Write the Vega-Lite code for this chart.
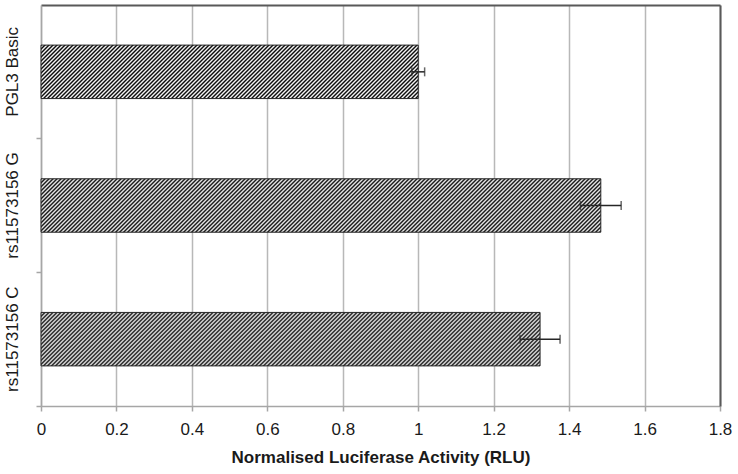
{
"$schema": "https://vega.github.io/schema/vega-lite/v6.json",
"width": 679, "height": 401,
"autosize": {"type": "none"},
"padding": {"left": 41, "top": 5, "right": 18, "bottom": 68},
"background": "white",
"config": {"font": "Liberation Sans", "view": {"stroke": null}},
"params": [{"name": "hatch", "value": [
{"offset":0.00,"color":"#000"},{"offset":0.0025,"color":"#fff"},{"offset":0.005,"color":"#000"},{"offset":0.0075,"color":"#fff"},
{"offset":0.01,"color":"#000"},{"offset":0.0125,"color":"#fff"},{"offset":0.015,"color":"#000"},{"offset":0.0175,"color":"#fff"},
{"offset":0.02,"color":"#000"},{"offset":0.0225,"color":"#fff"},{"offset":0.025,"color":"#000"},{"offset":0.0275,"color":"#fff"},
{"offset":0.03,"color":"#000"},{"offset":0.0325,"color":"#fff"},{"offset":0.035,"color":"#000"},{"offset":0.0375,"color":"#fff"},
{"offset":0.04,"color":"#000"},{"offset":0.0425,"color":"#fff"},{"offset":0.045,"color":"#000"},{"offset":0.0475,"color":"#fff"},
{"offset":0.05,"color":"#000"},{"offset":0.0525,"color":"#fff"},{"offset":0.055,"color":"#000"},{"offset":0.0575,"color":"#fff"},
{"offset":0.06,"color":"#000"},{"offset":0.0625,"color":"#fff"},{"offset":0.065,"color":"#000"},{"offset":0.0675,"color":"#fff"},
{"offset":0.07,"color":"#000"},{"offset":0.0725,"color":"#fff"},{"offset":0.075,"color":"#000"},{"offset":0.0775,"color":"#fff"},
{"offset":0.08,"color":"#000"},{"offset":0.0825,"color":"#fff"},{"offset":0.085,"color":"#000"},{"offset":0.0875,"color":"#fff"},
{"offset":0.09,"color":"#000"},{"offset":0.0925,"color":"#fff"},{"offset":0.095,"color":"#000"},{"offset":0.0975,"color":"#fff"},
{"offset":0.10,"color":"#000"},{"offset":0.1025,"color":"#fff"},{"offset":0.105,"color":"#000"},{"offset":0.1075,"color":"#fff"},
{"offset":0.11,"color":"#000"},{"offset":0.1125,"color":"#fff"},{"offset":0.115,"color":"#000"},{"offset":0.1175,"color":"#fff"},
{"offset":0.12,"color":"#000"},{"offset":0.1225,"color":"#fff"},{"offset":0.125,"color":"#000"},{"offset":0.1275,"color":"#fff"},
{"offset":0.13,"color":"#000"},{"offset":0.1325,"color":"#fff"},{"offset":0.135,"color":"#000"},{"offset":0.1375,"color":"#fff"},
{"offset":0.14,"color":"#000"},{"offset":0.1425,"color":"#fff"},{"offset":0.145,"color":"#000"},{"offset":0.1475,"color":"#fff"},
{"offset":0.15,"color":"#000"},{"offset":0.1525,"color":"#fff"},{"offset":0.155,"color":"#000"},{"offset":0.1575,"color":"#fff"},
{"offset":0.16,"color":"#000"},{"offset":0.1625,"color":"#fff"},{"offset":0.165,"color":"#000"},{"offset":0.1675,"color":"#fff"},
{"offset":0.17,"color":"#000"},{"offset":0.1725,"color":"#fff"},{"offset":0.175,"color":"#000"},{"offset":0.1775,"color":"#fff"},
{"offset":0.18,"color":"#000"},{"offset":0.1825,"color":"#fff"},{"offset":0.185,"color":"#000"},{"offset":0.1875,"color":"#fff"},
{"offset":0.19,"color":"#000"},{"offset":0.1925,"color":"#fff"},{"offset":0.195,"color":"#000"},{"offset":0.1975,"color":"#fff"},
{"offset":0.20,"color":"#000"},{"offset":0.2025,"color":"#fff"},{"offset":0.205,"color":"#000"},{"offset":0.2075,"color":"#fff"},
{"offset":0.21,"color":"#000"},{"offset":0.2125,"color":"#fff"},{"offset":0.215,"color":"#000"},{"offset":0.2175,"color":"#fff"},
{"offset":0.22,"color":"#000"},{"offset":0.2225,"color":"#fff"},{"offset":0.225,"color":"#000"},{"offset":0.2275,"color":"#fff"},
{"offset":0.23,"color":"#000"},{"offset":0.2325,"color":"#fff"},{"offset":0.235,"color":"#000"},{"offset":0.2375,"color":"#fff"},
{"offset":0.24,"color":"#000"},{"offset":0.2425,"color":"#fff"},{"offset":0.245,"color":"#000"},{"offset":0.2475,"color":"#fff"},
{"offset":0.25,"color":"#000"},{"offset":0.2525,"color":"#fff"},{"offset":0.255,"color":"#000"},{"offset":0.2575,"color":"#fff"},
{"offset":0.26,"color":"#000"},{"offset":0.2625,"color":"#fff"},{"offset":0.265,"color":"#000"},{"offset":0.2675,"color":"#fff"},
{"offset":0.27,"color":"#000"},{"offset":0.2725,"color":"#fff"},{"offset":0.275,"color":"#000"},{"offset":0.2775,"color":"#fff"},
{"offset":0.28,"color":"#000"},{"offset":0.2825,"color":"#fff"},{"offset":0.285,"color":"#000"},{"offset":0.2875,"color":"#fff"},
{"offset":0.29,"color":"#000"},{"offset":0.2925,"color":"#fff"},{"offset":0.295,"color":"#000"},{"offset":0.2975,"color":"#fff"},
{"offset":0.30,"color":"#000"},{"offset":0.3025,"color":"#fff"},{"offset":0.305,"color":"#000"},{"offset":0.3075,"color":"#fff"},
{"offset":0.31,"color":"#000"},{"offset":0.3125,"color":"#fff"},{"offset":0.315,"color":"#000"},{"offset":0.3175,"color":"#fff"},
{"offset":0.32,"color":"#000"},{"offset":0.3225,"color":"#fff"},{"offset":0.325,"color":"#000"},{"offset":0.3275,"color":"#fff"},
{"offset":0.33,"color":"#000"},{"offset":0.3325,"color":"#fff"},{"offset":0.335,"color":"#000"},{"offset":0.3375,"color":"#fff"},
{"offset":0.34,"color":"#000"},{"offset":0.3425,"color":"#fff"},{"offset":0.345,"color":"#000"},{"offset":0.3475,"color":"#fff"},
{"offset":0.35,"color":"#000"},{"offset":0.3525,"color":"#fff"},{"offset":0.355,"color":"#000"},{"offset":0.3575,"color":"#fff"},
{"offset":0.36,"color":"#000"},{"offset":0.3625,"color":"#fff"},{"offset":0.365,"color":"#000"},{"offset":0.3675,"color":"#fff"},
{"offset":0.37,"color":"#000"},{"offset":0.3725,"color":"#fff"},{"offset":0.375,"color":"#000"},{"offset":0.3775,"color":"#fff"},
{"offset":0.38,"color":"#000"},{"offset":0.3825,"color":"#fff"},{"offset":0.385,"color":"#000"},{"offset":0.3875,"color":"#fff"},
{"offset":0.39,"color":"#000"},{"offset":0.3925,"color":"#fff"},{"offset":0.395,"color":"#000"},{"offset":0.3975,"color":"#fff"},
{"offset":0.40,"color":"#000"},{"offset":0.4025,"color":"#fff"},{"offset":0.405,"color":"#000"},{"offset":0.4075,"color":"#fff"},
{"offset":0.41,"color":"#000"},{"offset":0.4125,"color":"#fff"},{"offset":0.415,"color":"#000"},{"offset":0.4175,"color":"#fff"},
{"offset":0.42,"color":"#000"},{"offset":0.4225,"color":"#fff"},{"offset":0.425,"color":"#000"},{"offset":0.4275,"color":"#fff"},
{"offset":0.43,"color":"#000"},{"offset":0.4325,"color":"#fff"},{"offset":0.435,"color":"#000"},{"offset":0.4375,"color":"#fff"},
{"offset":0.44,"color":"#000"},{"offset":0.4425,"color":"#fff"},{"offset":0.445,"color":"#000"},{"offset":0.4475,"color":"#fff"},
{"offset":0.45,"color":"#000"},{"offset":0.4525,"color":"#fff"},{"offset":0.455,"color":"#000"},{"offset":0.4575,"color":"#fff"},
{"offset":0.46,"color":"#000"},{"offset":0.4625,"color":"#fff"},{"offset":0.465,"color":"#000"},{"offset":0.4675,"color":"#fff"},
{"offset":0.47,"color":"#000"},{"offset":0.4725,"color":"#fff"},{"offset":0.475,"color":"#000"},{"offset":0.4775,"color":"#fff"},
{"offset":0.48,"color":"#000"},{"offset":0.4825,"color":"#fff"},{"offset":0.485,"color":"#000"},{"offset":0.4875,"color":"#fff"},
{"offset":0.49,"color":"#000"},{"offset":0.4925,"color":"#fff"},{"offset":0.495,"color":"#000"},{"offset":0.4975,"color":"#fff"},
{"offset":0.50,"color":"#000"},{"offset":0.5025,"color":"#fff"},{"offset":0.505,"color":"#000"},{"offset":0.5075,"color":"#fff"},
{"offset":0.51,"color":"#000"},{"offset":0.5125,"color":"#fff"},{"offset":0.515,"color":"#000"},{"offset":0.5175,"color":"#fff"},
{"offset":0.52,"color":"#000"},{"offset":0.5225,"color":"#fff"},{"offset":0.525,"color":"#000"},{"offset":0.5275,"color":"#fff"},
{"offset":0.53,"color":"#000"},{"offset":0.5325,"color":"#fff"},{"offset":0.535,"color":"#000"},{"offset":0.5375,"color":"#fff"},
{"offset":0.54,"color":"#000"},{"offset":0.5425,"color":"#fff"},{"offset":0.545,"color":"#000"},{"offset":0.5475,"color":"#fff"},
{"offset":0.55,"color":"#000"},{"offset":0.5525,"color":"#fff"},{"offset":0.555,"color":"#000"},{"offset":0.5575,"color":"#fff"},
{"offset":0.56,"color":"#000"},{"offset":0.5625,"color":"#fff"},{"offset":0.565,"color":"#000"},{"offset":0.5675,"color":"#fff"},
{"offset":0.57,"color":"#000"},{"offset":0.5725,"color":"#fff"},{"offset":0.575,"color":"#000"},{"offset":0.5775,"color":"#fff"},
{"offset":0.58,"color":"#000"},{"offset":0.5825,"color":"#fff"},{"offset":0.585,"color":"#000"},{"offset":0.5875,"color":"#fff"},
{"offset":0.59,"color":"#000"},{"offset":0.5925,"color":"#fff"},{"offset":0.595,"color":"#000"},{"offset":0.5975,"color":"#fff"},
{"offset":0.60,"color":"#000"},{"offset":0.6025,"color":"#fff"},{"offset":0.605,"color":"#000"},{"offset":0.6075,"color":"#fff"},
{"offset":0.61,"color":"#000"},{"offset":0.6125,"color":"#fff"},{"offset":0.615,"color":"#000"},{"offset":0.6175,"color":"#fff"},
{"offset":0.62,"color":"#000"},{"offset":0.6225,"color":"#fff"},{"offset":0.625,"color":"#000"},{"offset":0.6275,"color":"#fff"},
{"offset":0.63,"color":"#000"},{"offset":0.6325,"color":"#fff"},{"offset":0.635,"color":"#000"},{"offset":0.6375,"color":"#fff"},
{"offset":0.64,"color":"#000"},{"offset":0.6425,"color":"#fff"},{"offset":0.645,"color":"#000"},{"offset":0.6475,"color":"#fff"},
{"offset":0.65,"color":"#000"},{"offset":0.6525,"color":"#fff"},{"offset":0.655,"color":"#000"},{"offset":0.6575,"color":"#fff"},
{"offset":0.66,"color":"#000"},{"offset":0.6625,"color":"#fff"},{"offset":0.665,"color":"#000"},{"offset":0.6675,"color":"#fff"},
{"offset":0.67,"color":"#000"},{"offset":0.6725,"color":"#fff"},{"offset":0.675,"color":"#000"},{"offset":0.6775,"color":"#fff"},
{"offset":0.68,"color":"#000"},{"offset":0.6825,"color":"#fff"},{"offset":0.685,"color":"#000"},{"offset":0.6875,"color":"#fff"},
{"offset":0.69,"color":"#000"},{"offset":0.6925,"color":"#fff"},{"offset":0.695,"color":"#000"},{"offset":0.6975,"color":"#fff"},
{"offset":0.70,"color":"#000"},{"offset":0.7025,"color":"#fff"},{"offset":0.705,"color":"#000"},{"offset":0.7075,"color":"#fff"},
{"offset":0.71,"color":"#000"},{"offset":0.7125,"color":"#fff"},{"offset":0.715,"color":"#000"},{"offset":0.7175,"color":"#fff"},
{"offset":0.72,"color":"#000"},{"offset":0.7225,"color":"#fff"},{"offset":0.725,"color":"#000"},{"offset":0.7275,"color":"#fff"},
{"offset":0.73,"color":"#000"},{"offset":0.7325,"color":"#fff"},{"offset":0.735,"color":"#000"},{"offset":0.7375,"color":"#fff"},
{"offset":0.74,"color":"#000"},{"offset":0.7425,"color":"#fff"},{"offset":0.745,"color":"#000"},{"offset":0.7475,"color":"#fff"},
{"offset":0.75,"color":"#000"},{"offset":0.7525,"color":"#fff"},{"offset":0.755,"color":"#000"},{"offset":0.7575,"color":"#fff"},
{"offset":0.76,"color":"#000"},{"offset":0.7625,"color":"#fff"},{"offset":0.765,"color":"#000"},{"offset":0.7675,"color":"#fff"},
{"offset":0.77,"color":"#000"},{"offset":0.7725,"color":"#fff"},{"offset":0.775,"color":"#000"},{"offset":0.7775,"color":"#fff"},
{"offset":0.78,"color":"#000"}
]}],
"data": {"values": [
{"label": "PGL3 Basic", "value": 1.0, "err": 0.017},
{"label": "rs11573156 G", "value": 1.484, "err": 0.054},
{"label": "rs11573156 C", "value": 1.323, "err": 0.053}
]},
"layer": [
{
"mark": {"type": "bar", "stroke": "#262626", "strokeWidth": 1,
 "fill": {"expr": "{gradient: 'linear', x1: 0, y1: 0, x2: 800 * scale('x', datum.value) / (pow(scale('x', datum.value), 2) + pow(bandwidth('y'), 2)), y2: 800 * bandwidth('y') / (pow(scale('x', datum.value), 2) + pow(bandwidth('y'), 2)), stops: hatch}"}},
"encoding": {
 "x": {"field": "value", "type": "quantitative",
  "scale": {"domain": [0, 1.8], "nice": false, "zero": true},
  "axis": {"orient": "bottom", "values": [0, 0.2, 0.4, 0.6, 0.8, 1, 1.2, 1.4, 1.6, 1.8], "format": "~g",
   "grid": true, "gridColor": "#b8b8b8", "gridWidth": 1.5,
   "domainColor": "#a6a6a6", "domainWidth": 1.5, "tickColor": "#a6a6a6", "tickWidth": 1.5, "tickSize": 5,
   "labelFontSize": 17, "labelColor": "#1a1a1a", "labelPadding": 10, "labelFlush": false, "labelOverlap": false,
   "title": "Normalised Luciferase Activity (RLU)", "titleFontSize": 17, "titleFontWeight": "bold", "titleColor": "#1a1a1a", "titlePadding": 12}},
 "y": {"field": "label", "type": "nominal", "sort": null,
  "scale": {"paddingInner": 0.6, "paddingOuter": 0.3},
  "axis": {"orient": "left", "bandPosition": 1.75, "tickSize": 5, "tickColor": "#a6a6a6", "tickWidth": 1.5,
   "domainColor": "#a6a6a6", "domainWidth": 1.5, "grid": false,
   "labelAngle": -90, "labelAlign": "center", "labelBaseline": "alphabetic", "labelFontSize": 17, "labelColor": "#1a1a1a", "labelPadding": 19,
   "title": null}}
}
},
{
"mark": {"type": "errorbar", "ticks": {"size": 9, "thickness": 1.5, "color": "#262626"}, "rule": {"color": "#262626", "strokeWidth": 1.5}},
"encoding": {
 "x": {"field": "value", "type": "quantitative",
  "axis": {"orient": "top", "labels": false, "ticks": false, "grid": false, "title": null, "domainColor": "#595959", "domainWidth": 2}},
 "xError": {"field": "err"},
 "y": {"field": "label", "type": "nominal", "sort": null,
  "axis": {"orient": "right", "labels": false, "ticks": false, "grid": false, "title": null, "domainColor": "#595959", "domainWidth": 2}}
}
}
],
"resolve": {"axis": {"x": "independent", "y": "independent"}}
}
